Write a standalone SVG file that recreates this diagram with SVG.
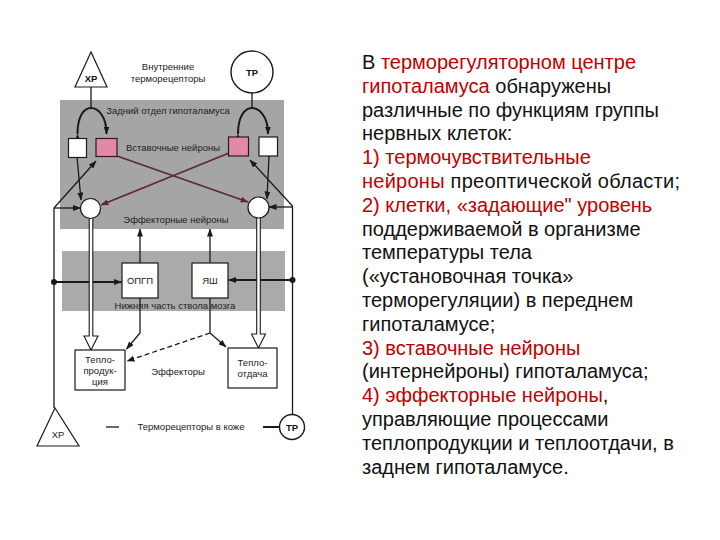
<svg xmlns="http://www.w3.org/2000/svg" width="720" height="540" viewBox="0 0 720 540">
<defs>
<style>
.ln{stroke:#1a1a1a;stroke-width:1.3;fill:none}
.th{stroke:#1a1a1a;stroke-width:2;fill:none}
.cr{stroke:#5e2634;stroke-width:1.6;fill:none}
.box{fill:#ffffff;stroke:#1a1a1a;stroke-width:1.2}
.pink{fill:#e08aa6;stroke:#2a1a1e;stroke-width:1.2}
.lbl{font-family:"Liberation Sans",Arial,sans-serif;font-size:9.5px;fill:#222;text-anchor:middle}
.blbl{font-family:"Liberation Sans",Arial,sans-serif;font-size:9.5px;fill:#111;text-anchor:middle;font-weight:bold}
.txt{font-family:"Liberation Sans",Arial,sans-serif;font-size:20px;fill:#111}
.red{fill:#c00000}
</style>
<marker id="ar" markerWidth="8" markerHeight="6" refX="7.5" refY="3" orient="auto" markerUnits="userSpaceOnUse">
<path d="M0,0 L8,3 L0,6 z" fill="#1a1a1a"/>
</marker>
<marker id="arm" markerWidth="8" markerHeight="6" refX="7.5" refY="3" orient="auto" markerUnits="userSpaceOnUse">
<path d="M0,0 L8,3 L0,6 z" fill="#5e2634"/>
</marker>
</defs>
<rect width="720" height="540" fill="#ffffff"/>

<g id="zones">
<rect x="60" y="100" width="224" height="129" fill="#a5a5a5"/>
<rect x="62" y="251" width="223" height="60" fill="#aaaaaa"/>
</g>

<g id="labels">
<text class="lbl" x="168" y="70">Внутренние</text>
<text class="lbl" x="168" y="82">терморецепторы</text>
<text class="lbl" x="168" y="114">Задний отдел гипоталамуса</text>
<text class="lbl" x="173" y="151">Вставочные нейроны</text>
<text class="lbl" x="176" y="223">Эффекторные нейроны</text>
<text class="lbl" x="175" y="309">Нижняя часть ствола мозга</text>
<text class="lbl" x="178" y="375">Эффекторы</text>
</g>

<g id="connectors">
<line class="ln" x1="91" y1="87" x2="91" y2="108"/>
<path class="th" d="M77.5,134 C77.5,116 84,108 91,108 C98,108 106.5,116 106.5,134" marker-start="url(#ar)" marker-end="url(#ar)"/>
<line class="ln" x1="252" y1="93" x2="252" y2="108"/>
<path class="th" d="M238,134 C238,116 245,108 252,108 C259,108 268,116 268,134" marker-start="url(#ar)" marker-end="url(#ar)"/>
<line class="cr" x1="117" y1="156" x2="248" y2="202" marker-end="url(#arm)"/>
<line class="cr" x1="229" y1="153" x2="101" y2="205" marker-end="url(#arm)"/>
<line class="ln" x1="77" y1="157" x2="81" y2="200" marker-end="url(#ar)"/>
<line class="ln" x1="269" y1="156" x2="267" y2="199" marker-end="url(#ar)"/>
<line class="ln" x1="54" y1="208" x2="96" y2="161" marker-end="url(#ar)"/>
<line class="ln" x1="54" y1="208" x2="80.5" y2="208" marker-end="url(#ar)"/>
<line class="ln" x1="292.5" y1="206" x2="250" y2="160" marker-end="url(#ar)"/>
<line class="ln" x1="292.5" y1="207" x2="269" y2="207" marker-end="url(#ar)"/>
<line class="ln" x1="54" y1="208" x2="54" y2="408"/>
<line class="ln" x1="292.5" y1="206" x2="292.5" y2="414.5"/>
<circle cx="54" cy="282" r="3" fill="#1a1a1a"/>
<circle cx="292.5" cy="280" r="3" fill="#1a1a1a"/>
<line class="th" x1="54" y1="282" x2="121.5" y2="282" marker-end="url(#ar)"/>
<line class="th" x1="292.5" y1="280" x2="228.5" y2="280" marker-end="url(#ar)"/>
<line class="ln" x1="140" y1="263" x2="140" y2="229" marker-end="url(#ar)"/>
<line class="ln" x1="210" y1="263" x2="210" y2="229" marker-end="url(#ar)"/>
<path class="ln" d="M140,298 L140,333 L126.5,349" marker-end="url(#ar)"/>
<path class="ln" d="M210,298 L210,333 L226,347" marker-end="url(#ar)"/>
<line class="ln" x1="210" y1="333" x2="127" y2="361" stroke-dasharray="5,3" marker-end="url(#ar)"/>
<path d="M89.2,218 L89.2,336 L84,336 L91,350 L98,336 L92.8,336 L92.8,218" fill="#ffffff" stroke="#1a1a1a" stroke-width="1.1"/>
<path d="M256.7,218 L256.7,334 L251.5,334 L258.5,348 L265.5,334 L260.3,334 L260.3,218" fill="#ffffff" stroke="#1a1a1a" stroke-width="1.1"/>
<line class="ln" x1="106" y1="427" x2="119" y2="427"/>
<line class="th" x1="263" y1="427" x2="279.5" y2="427"/>
</g>

<g id="xr-top">
<polygon points="91,52 75,87 107,87" fill="#ffffff" stroke="#1a1a1a" stroke-width="1.2"/>
<text class="blbl" x="91" y="82">ХР</text>
</g>
<g id="tr-top">
<circle cx="252" cy="72" r="21" fill="#ffffff" stroke="#1a1a1a" stroke-width="1.4"/>
<text class="blbl" x="252" y="75.5">ТР</text>
</g>
<g id="white-left"><rect class="box" x="68.5" y="138.5" width="18" height="19"/></g>
<g id="pink-left"><rect class="pink" x="96" y="138.5" width="21" height="18"/></g>
<g id="pink-right"><rect class="pink" x="228.5" y="137" width="20" height="19"/></g>
<g id="white-right"><rect class="box" x="259" y="137" width="18.5" height="19"/></g>
<g id="eff-left"><circle cx="90.5" cy="208.5" r="10" fill="#ffffff" stroke="#1a1a1a" stroke-width="1.2"/></g>
<g id="eff-right"><circle cx="258.5" cy="207.5" r="10.5" fill="#ffffff" stroke="#1a1a1a" stroke-width="1.2"/></g>
<g id="opgp">
<rect class="box" x="122" y="263" width="36" height="35"/>
<text class="lbl" x="140" y="284">ОПГП</text>
</g>
<g id="yash">
<rect class="box" x="192" y="263" width="36" height="35"/>
<text class="lbl" x="210" y="284">ЯШ</text>
</g>
<g id="teploprod">
<rect class="box" x="75" y="350" width="50" height="40"/>
<text class="lbl" x="100" y="363">Тепло-</text>
<text class="lbl" x="100" y="374">продук-</text>
<text class="lbl" x="100" y="385">ция</text>
</g>
<g id="teplootd">
<rect class="box" x="228" y="348" width="49" height="40"/>
<text class="lbl" x="252.5" y="366">Тепло-</text>
<text class="lbl" x="252.5" y="377">отдача</text>
</g>
<g id="xr-bottom">
<polygon points="55,408 37,446 79,446" fill="#ffffff" stroke="#1a1a1a" stroke-width="1.2"/>
<text class="lbl" x="58" y="438">ХР</text>
</g>
<g id="tr-bottom">
<circle cx="292" cy="427" r="12.5" fill="#ffffff" stroke="#1a1a1a" stroke-width="1.4"/>
<text class="blbl" x="292" y="430.5">ТР</text>
</g>
<g id="skin-label">
<text class="lbl" x="191" y="430">Терморецепторы в коже</text>
</g>

<g id="description">
<text class="txt" x="362" y="69">В <tspan class="red">терморегуляторном центре</tspan></text>
<text class="txt" x="362" y="92.8"><tspan class="red">гипоталамуса</tspan> обнаружены</text>
<text class="txt" x="362" y="116.6">различные по функциям группы</text>
<text class="txt" x="362" y="140.4">нервных клеток:</text>
<text class="txt red" x="362" y="164.2">1) термочувствительные</text>
<text class="txt" x="362" y="188" textLength="318" lengthAdjust="spacing"><tspan class="red">нейроны</tspan> преоптической области;</text>
<text class="txt red" x="362" y="211.8">2) клетки, «задающие" уровень</text>
<text class="txt" x="362" y="235.6">поддерживаемой в организме</text>
<text class="txt" x="362" y="259.4">температуры тела</text>
<text class="txt" x="362" y="283.2">(«установочная точка»</text>
<text class="txt" x="362" y="307">терморегуляции) в переднем</text>
<text class="txt" x="362" y="330.8">гипоталамусе;</text>
<text class="txt red" x="362" y="354.6">3) вставочные нейроны</text>
<text class="txt" x="362" y="378.4">(интернейроны) гипоталамуса;</text>
<text class="txt" x="362" y="402.2"><tspan class="red">4) эффекторные нейроны</tspan>,</text>
<text class="txt" x="362" y="426">управляющие процессами</text>
<text class="txt" x="362" y="449.8">теплопродукции и теплоотдачи, в</text>
<text class="txt" x="362" y="473.6">заднем гипоталамусе.</text>
</g>
</svg>
